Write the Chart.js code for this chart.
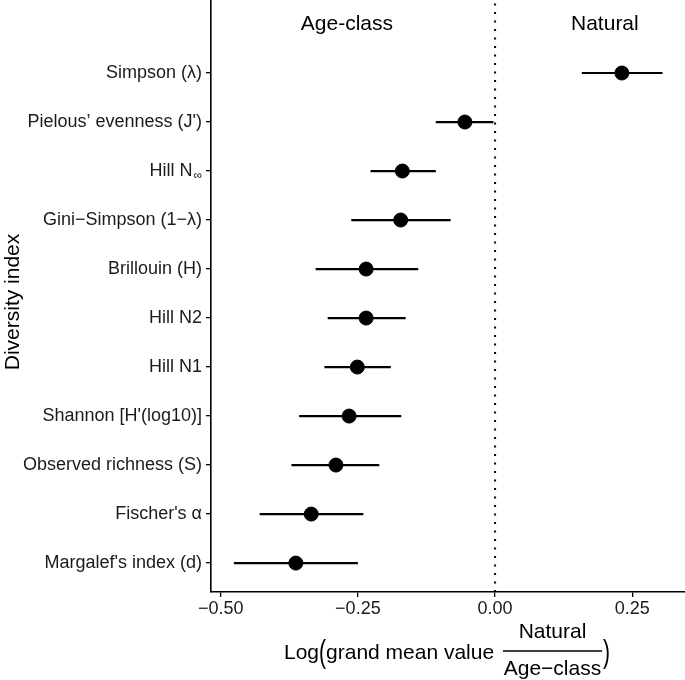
<!DOCTYPE html>
<html>
<head>
<meta charset="utf-8">
<script src="https://cdn.jsdelivr.net/npm/chart.js@4"></script>
<style>
html,body{margin:0;padding:0;background:#fff;}
canvas{display:block;}
</style>
</head>
<body>
<canvas id="c" width="685" height="680"></canvas>
<script>
const categories = [
  "Simpson (λ)",
  "Pielous’ evenness (J')",
  "Hill N∞",
  "Gini−Simpson (1−λ)",
  "Brillouin (H)",
  "Hill N2",
  "Hill N1",
  "Shannon [H'(log10)]",
  "Observed richness (S)",
  "Fischer's α",
  "Margalef's index (d)"
];
const means = [0.231, -0.055, -0.169, -0.172, -0.235, -0.235, -0.251, -0.266, -0.290, -0.335, -0.363];
const lower = [0.158, -0.108, -0.227, -0.262, -0.327, -0.305, -0.311, -0.357, -0.371, -0.429, -0.476];
const upper = [0.305, -0.003, -0.108, -0.081, -0.140, -0.163, -0.190, -0.171, -0.211, -0.240, -0.250];
const xTicks = [-0.50, -0.25, 0.00, 0.25];
const groupLabels = ["Age-class", "Natural"];
const groupX = [-0.27, 0.20];

const FONT = "'Liberation Sans', Arial, Helvetica, sans-serif";
const n = categories.length;
const yVal = i => n - i;

const pointData = means.map((m, i) => ({x: m, y: yVal(i)}));
const barData = [];
lower.forEach((lo, i) => {
  barData.push({x: lo, y: yVal(i)});
  barData.push({x: upper[i], y: yVal(i)});
  barData.push({x: null, y: null});
});

function zeroPad(s) { s.paddingLeft = 0; s.paddingRight = 0; s.paddingTop = 0; s.paddingBottom = 0; }

const overlay = {
  id: 'overlay',
  beforeDatasetsDraw(chart) {
    const ctx = chart.ctx, xs = chart.scales.x;
    const x0 = xs.getPixelForValue(0);
    ctx.save();
    ctx.strokeStyle = '#000';
    ctx.lineWidth = 2;
    ctx.setLineDash([2, 6.5]);
    ctx.beginPath();
    ctx.moveTo(x0, chart.chartArea.bottom);
    ctx.lineTo(x0, 0);
    ctx.stroke();
    ctx.restore();
  },
  afterDraw(chart) {
    const ctx = chart.ctx, xs = chart.scales.x, ys = chart.scales.y;
    ctx.save();
    ctx.fillStyle = '#000';
    ctx.font = '21px ' + FONT;
    ctx.textAlign = 'center';
    ctx.textBaseline = 'middle';
    groupLabels.forEach((t, i) => {
      ctx.fillText(t, xs.getPixelForValue(groupX[i]), ys.getPixelForValue(12));
    });
    ctx.fillStyle = '#1a1a1a';
    ctx.font = '18px ' + FONT;
    ctx.textAlign = 'right';
    ctx.textBaseline = 'middle';
    const xr = ys.right - 9;
    categories.forEach((t, i) => {
      const y = ys.getPixelForValue(yVal(i));
      if (t === "Hill N∞") {
        ctx.font = '12px ' + FONT;
        const w = ctx.measureText('∞').width;
        ctx.fillText('∞', xr, y + 5);
        ctx.font = '18px ' + FONT;
        ctx.fillText('Hill N', xr - w - 1, y);
      } else {
        ctx.fillText(t, xr, y);
      }
    });
    ctx.fillStyle = '#000';
    ctx.save();
    ctx.translate(13, 302);
    ctx.rotate(-Math.PI / 2);
    ctx.font = '21px ' + FONT;
    ctx.textAlign = 'center';
    ctx.textBaseline = 'middle';
    ctx.fillText('Diversity index', 0, 0);
    ctx.restore();
    ctx.font = '21px ' + FONT;
    ctx.textBaseline = 'middle';
    ctx.textAlign = 'left';
    const yMid = 653;
    let x = 284;
    const main = 'Log';
    ctx.fillText(main, x, yMid);
    x += ctx.measureText(main).width;
    const pw = ctx.measureText('(').width;
    ctx.save();
    ctx.translate(x, yMid);
    ctx.scale(1, 1.5);
    ctx.fillText('(', 0, 0);
    ctx.restore();
    x += pw;
    const rest = 'grand mean value ';
    ctx.fillText(rest, x, yMid);
    x += ctx.measureText(rest).width + 3;
    const fracL = x, fracR = x + 99;
    const fc = (fracL + fracR) / 2;
    ctx.textAlign = 'center';
    ctx.fillText('Natural', fc, 632);
    ctx.fillText('Age−class', fc, 669);
    ctx.lineWidth = 1.3;
    ctx.strokeStyle = '#000';
    ctx.beginPath();
    ctx.moveTo(fracL, 651);
    ctx.lineTo(fracR, 651);
    ctx.stroke();
    ctx.textAlign = 'left';
    ctx.save();
    ctx.translate(fracR + 1, yMid);
    ctx.scale(1, 1.5);
    ctx.fillText(')', 0, 0);
    ctx.restore();
    ctx.restore();
  }
};

new Chart(document.getElementById('c'), {
  type: 'scatter',
  data: {
    datasets: [
      {
        data: barData,
        showLine: true,
        borderColor: '#000',
        borderWidth: 2.2,
        pointRadius: 0,
        spanGaps: false,
        clip: false
      },
      {
        data: pointData,
        showLine: false,
        backgroundColor: '#000',
        borderColor: '#000',
        pointRadius: 7,
        pointHoverRadius: 7,
        clip: false
      }
    ]
  },
  options: {
    responsive: false,
    animation: false,
    events: [],
    layout: {padding: 0, autoPadding: false},
    plugins: {legend: {display: false}, tooltip: {enabled: false}},
    scales: {
      x: {
        type: 'linear',
        min: -0.5176,
        max: 0.346,
        afterBuildTicks(s) { s.ticks = xTicks.map(v => ({value: v})); },
        afterFit(s) { s.height = 88; zeroPad(s); },
        grid: {display: true, drawOnChartArea: false, drawTicks: true, tickLength: 5, color: '#000', lineWidth: 1.3},
        border: {display: true, color: '#000', width: 1.6},
        ticks: {
          color: '#1a1a1a',
          font: {family: FONT, size: 18},
          padding: 1,
          maxRotation: 0,
          callback: v => (v < 0 ? '−' : '') + Math.abs(v).toFixed(2)
        }
      },
      y: {
        type: 'linear',
        min: 0.41,
        max: 12.49,
        afterBuildTicks(s) { s.ticks = categories.map((c, i) => ({value: yVal(i)})); },
        afterFit(s) { s.width = 211; zeroPad(s); },
        grid: {display: true, drawOnChartArea: false, drawTicks: true, tickLength: 5, color: '#000', lineWidth: 1.3},
        border: {display: true, color: '#000', width: 1.6},
        ticks: {display: false}
      }
    }
  },
  plugins: [overlay]
});
</script>
</body>
</html>
